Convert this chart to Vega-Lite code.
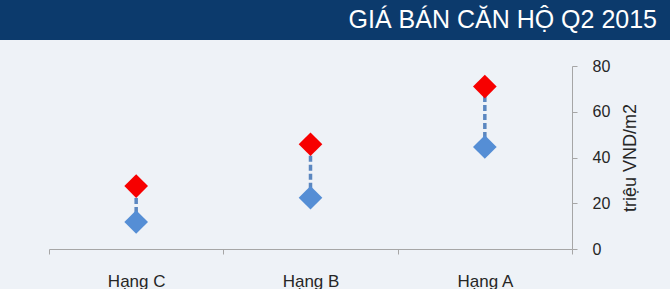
{
  "$schema": "https://vega.github.io/schema/vega-lite/v6.json",
  "background": "#eef2f7",
  "padding": 0,
  "autosize": {"type": "pad"},
  "spacing": 18,
  "config": {
    "view": {"stroke": null},
    "font": "Liberation Sans"
  },
  "datasets": {
    "ranges": [
      {"hang": "Hạng A", "low": 44.6, "high": 71},
      {"hang": "Hạng B", "low": 22.4, "high": 45.8},
      {"hang": "Hạng C", "low": 11.8, "high": 27.5}
    ],
    "header": [{"t": "GIÁ BÁN CĂN HỘ Q2 2015"}]
  },
  "vconcat": [
    {
      "width": 670,
      "height": 40,
      "view": {"fill": "#0c3a6c", "stroke": null},
      "data": {"name": "header"},
      "mark": {"type": "text", "align": "right", "baseline": "middle", "fontSize": 25, "color": "#ffffff", "font": "Liberation Sans"},
      "encoding": {
        "x": {"datum": 657, "type": "quantitative", "scale": {"domain": [0, 670]}, "axis": null},
        "y": {"datum": 0.5, "type": "quantitative", "scale": {"domain": [0, 1]}, "axis": null},
        "text": {"field": "t"}
      }
    },
    {
      "width": 572,
      "height": 183,
      "data": {"name": "ranges"},
      "layer": [
        {
          "mark": {"type": "rule", "stroke": "#5b87c0", "strokeWidth": 3.5, "strokeDash": [6, 3]},
          "encoding": {
            "x": {
              "field": "hang", "type": "nominal",
              "sort": ["Hạng C", "Hạng B", "Hạng A"],
              "scale": {"type": "band", "paddingInner": 0, "paddingOuter": 0, "range": [49, 572]},
              "axis": {
                "title": null, "tickBand": "extent", "labelAngle": 0,
                "labelFontSize": 17, "labelColor": "#262626", "labelPadding": 19,
                "domainColor": "#a6a6a6", "tickColor": "#a6a6a6", "tickSize": 5
              }
            },
            "y": {
              "field": "low", "type": "quantitative",
              "scale": {"domain": [0, 80]},
              "axis": {
                "orient": "right", "values": [0, 20, 40, 60, 80], "grid": false,
                "title": "triệu VND/m2", "titleAngle": 270, "titleBaseline": "top", "titleFontSize": 18, "titleFontWeight": "normal",
                "titleColor": "#262626", "titlePadding": 12,
                "labelFontSize": 16, "labelColor": "#262626", "labelPadding": 15,
                "domainColor": "#a6a6a6", "tickColor": "#a6a6a6", "tickSize": 5
              }
            },
            "y2": {"field": "high"}
          }
        },
        {
          "transform": [{"fold": ["low", "high"], "as": ["type", "value"]}],
          "mark": {"type": "point", "shape": "diamond", "filled": true, "opacity": 1, "size": 560},
          "encoding": {
            "x": {"field": "hang", "type": "nominal", "sort": ["Hạng C", "Hạng B", "Hạng A"]},
            "y": {"field": "value", "type": "quantitative"},
            "color": {
              "field": "type", "type": "nominal",
              "scale": {"domain": ["low", "high"], "range": ["#558ed5", "#f70000"]},
              "legend": null
            }
          }
        }
      ]
    }
  ]
}
